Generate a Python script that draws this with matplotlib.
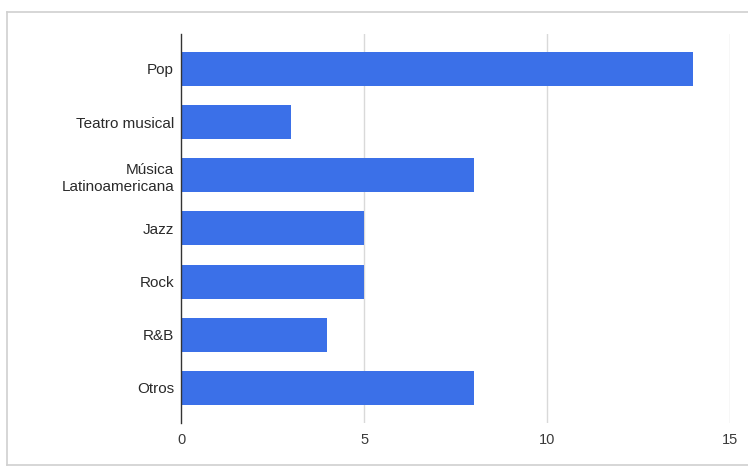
import matplotlib.pyplot as plt
from matplotlib.lines import Line2D

categorias = ['Pop', 'Teatro musical', 'Música\nLatinoamericana', 'Jazz', 'Rock', 'R&B', 'Otros']
valores = [14, 3, 8, 5, 5, 4, 8]
ticks_x = [0, 5, 10, 15]

plt.rcParams['font.family'] = ['Liberation Sans', 'DejaVu Sans']

fig = plt.figure(figsize=(7.48, 4.68), dpi=100)
ax = fig.add_axes([0.242, 0.0962, 0.734, 0.8312])

pos = list(range(len(categorias)))
ax.barh(pos, valores, height=0.64, color='#3b70e8', zorder=3)

ax.set_ylim(len(categorias) - 1 + 0.658, -0.658)
ax.set_xlim(0, 15)
ax.set_yticks(pos)
ax.set_yticklabels(categorias, fontsize=11, color='#2a2a2a', linespacing=1.25)
ax.set_xticks(ticks_x)
ax.set_xticklabels([str(t) for t in ticks_x], fontsize=10.5, color='#3a3a3a')
ax.tick_params(axis='both', length=0)
ax.tick_params(axis='x', pad=7)
ax.tick_params(axis='y', pad=5)

for t in ticks_x[1:]:
    ax.axvline(t, color='#d9d9d9', linewidth=1, zorder=1)

for s in ['top', 'right', 'bottom']:
    ax.spines[s].set_visible(False)
ax.spines['left'].set_color('#333333')
ax.spines['left'].set_linewidth(1)
ax.spines['left'].set_zorder(4)

# marco gris alrededor del gráfico
W, H = 748, 468
borde = dict(color='#d0d0d0', linewidth=1.2, transform=fig.transFigure)
fig.add_artist(Line2D([7 / W, 7 / W], [1 - 12 / H, 1 - 465 / H], **borde))
fig.add_artist(Line2D([7 / W, 1], [1 - 12 / H, 1 - 12 / H], **borde))
fig.add_artist(Line2D([7 / W, 1], [1 - 465 / H, 1 - 465 / H], **borde))

fig.savefig('out.png', dpi=100)
